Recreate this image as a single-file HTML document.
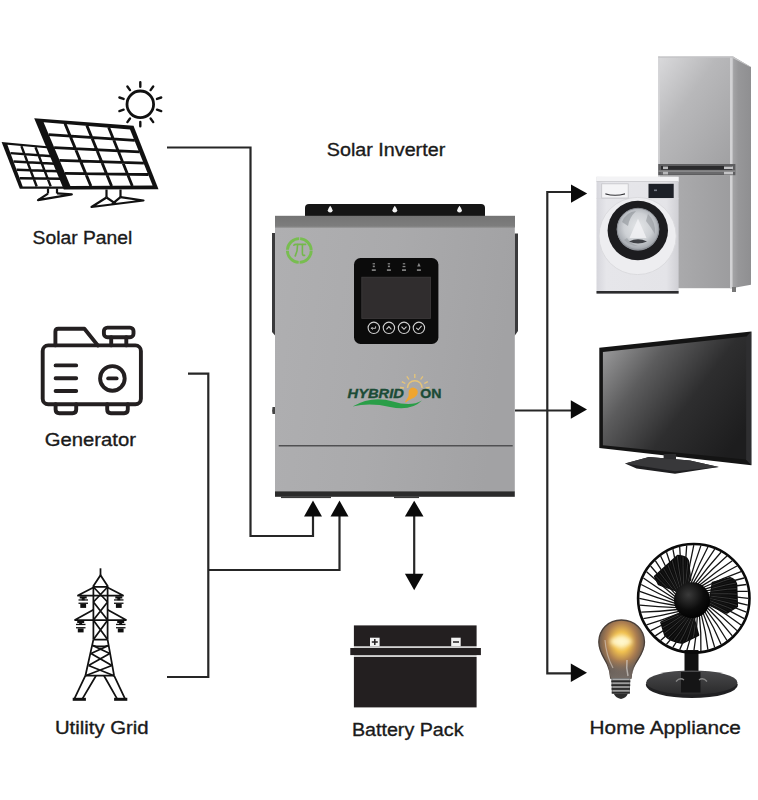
<!DOCTYPE html>
<html><head><meta charset="utf-8">
<style>
html,body{margin:0;padding:0;background:#fff;}
body{width:758px;height:800px;overflow:hidden;position:relative;}
svg{position:absolute;left:0;top:0;display:block;}
text{font-family:"Liberation Sans",sans-serif;fill:#1a1a1a;}
.lbl{stroke:#1a1a1a;stroke-width:0.35px;}
</style></head>
<body>
<svg width="758" height="800" viewBox="0 0 758 800">
<!-- connector lines -->
<g fill="none" stroke="#262626" stroke-width="2.2" stroke-linejoin="miter">
  <path d="M167 147.5 H250.5 V536 H313 V515"/>
  <path d="M188 373.7 H208.3 V677 H167"/>
  <path d="M208.3 570 H339.5 V515"/>
  <path d="M414.2 514 V576"/>
  <path d="M571 192 H547.3 V673.4 H571"/>
  <path d="M515 410.5 H571"/>
</g>
<g fill="#0a0a0a">
  <path d="M313 500.5 L322 516.5 L304 516.5Z"/>
  <path d="M339.5 500.5 L348.5 516.5 L330.5 516.5Z"/>
  <path d="M414.2 500.7 L423.5 516.4 L404.9 516.4Z"/>
  <path d="M414.2 590.2 L423.5 573.7 L404.9 573.7Z"/>
  <path d="M587.2 193.5 L571 184.4 L571 202.8Z"/>
  <path d="M587 409.5 L570.8 400.3 L570.8 418.8Z"/>
  <path d="M587 672.8 L570.8 663.5 L570.8 682Z"/>
</g>
<!-- solar panel icon -->
<g id="solar">
<path fill="#111" d="M1.6 142.0 L50.0 146.5 L68.0 188.8 L19.8 188.8 Z"/>
<path fill="#fff" d="M7.4 144.8 L49.5 148.6 L64.7 186.4 L22.7 186.5 Z"/>
<path fill="none" stroke="#111" stroke-width="2.4" d="M21.4 146.1 L36.7 186.5 M35.5 147.3 L50.7 186.4 M10.5 153.1 L52.5 156.2 M13.5 161.5 L55.6 163.7 M16.6 169.8 L58.6 171.3 M19.6 178.2 L61.7 178.8"/>
<path fill="#111" d="M34.2 118.3 L133.5 125.8 L158.5 189.2 L63.8 189.6 Z"/>
<path fill="#fff" d="M43.6 122.3 L130 129.4 L152.6 185.6 L70.4 185.9 Z"/>
<path fill="none" stroke="#111" stroke-width="2.8" d="M65.0 123.6 L90.9 186.1 M86.8 125.4 L111.6 186.1 M108.6 127.2 L132.3 186.0 M48.7 134.7 L134.8 140.4 M54.1 147.6 L139.4 151.8 M59.4 160.4 L143.9 163.1 M64.8 173.3 L148.5 174.5"/>

<g fill="none" stroke="#111" stroke-width="2.2" stroke-linejoin="round">
  <path d="M48 188.6 V193.6 M57 188.6 V193.4"/>
  <path d="M48 193.6 L38 200.2 L71.8 194.4 L57 193.4"/>
  <path d="M106.5 189.5 V197.5 M120.5 189.5 V197.2"/>
  <path d="M106.5 197.5 L91.5 207 L143.5 200.5 L120.5 197.2"/>
  <path d="M106.5 197.5 L116 203.8 M120.5 197.2 L112 204.2"/>
</g>
<g fill="none" stroke="#111">
  <circle cx="140.3" cy="104.3" r="13.3" stroke-width="2.8"/>
  <path stroke-width="2.4" stroke-linecap="round" d="M140.3 86.7 L140.3 82.3 M130.0 90.1 L127.4 86.5 M123.6 98.9 L119.4 97.5 M123.6 109.7 L119.4 111.1 M130.0 118.5 L127.4 122.1 M140.3 121.9 L140.3 126.3 M150.6 118.5 L153.2 122.1 M157.0 109.7 L161.2 111.1 M157.0 98.9 L161.2 97.5 M150.6 90.1 L153.2 86.5"/>
</g>
</g>
<!-- generator icon -->
<g fill="none" stroke="#231f20" stroke-width="3.9" stroke-linecap="round" stroke-linejoin="round">
  <rect x="42.7" y="345.4" width="98.2" height="58.8" rx="5.5"/>
  <path d="M55.4 345.4 V331.5 Q55.4 328.7 58.2 328.7 H84.4 L97.8 345.4"/>
  <rect x="103.9" y="327.6" width="29.6" height="9.6" rx="3.5"/>
  <path d="M111.2 337.2 V345.4 M126.3 337.2 V345.4"/>
  <path d="M55.6 365.4 H76.2 M55.6 378.2 H76.2 M55.6 391 H76.2"/>
  <circle cx="112.4" cy="378.4" r="12.3"/>
  <path d="M108.2 378.4 H116.6"/>
  <path d="M55.6 404.2 V409.5 Q55.6 413.2 59.3 413.2 H72.5 Q76.2 413.2 76.2 409.5 V404.2"/>
  <path d="M107.2 404.2 V409.5 Q107.2 413.2 110.9 413.2 H124.1 Q127.8 413.2 127.8 409.5 V404.2"/>
</g>
<!-- utility tower -->
<g fill="none" stroke="#111" stroke-width="1.75" stroke-linejoin="miter">
  <path d="M100.5 568.3 V575.5"/>
  <path d="M93.4 586 L100.5 575.2 L107.6 586"/>
  <path d="M93.4 586.9 H107.6"/>
  <path d="M93.4 585.5 V639.6 M107.6 585.5 V639.6"/>
  <path d="M77.3 595.7 H123.7 M77.3 595.7 L93.4 587.5 M123.7 595.7 L107.6 587.5"/>
  <path d="M74.4 620.2 H126.6 M74.4 620.2 L93.4 609.8 M126.6 620.2 L107.6 609.8"/>
  <path d="M93.4 587 L107.6 602 M107.6 587 L93.4 602 M93.4 602 L107.6 620 M107.6 602 L93.4 620"/>
  <path d="M93.4 620.2 L107.6 639.6 M107.6 620.2 L93.4 639.6 M93.4 639.6 H107.6"/>
  <path d="M93.4 639.6 L85.4 675.7 M107.6 639.6 L114.1 675.7 M85.4 675.7 H114.1"/>
  <path d="M92.6 645.5 Q100.5 647.5 108.6 645.5"/>
  <path d="M92.6 645.5 L109.8 653.5 M108.6 645.5 L91 653.5 M91 653.5 L111.9 665.5 M109.8 653.5 L88.5 665.5 M88.5 665.5 L114.1 675.7 M111.9 665.5 L85.4 675.7"/>
  <path d="M85.4 675.7 L74.2 699.1 M96 675.7 L82.2 699.1 M114.1 675.7 L125.2 699.1 M104 675.7 L117.3 699.1"/>
</g>
<g fill="#111">
  <rect x="72.7" y="697.8" width="13.2" height="3"/>
  <rect x="114.1" y="697.8" width="13.2" height="3"/>
<rect x="79.7" y="596.3" width="7" height="2.2"/><rect x="78.5" y="599.3" width="9.5" height="1.3"/><rect x="78.5" y="602.6" width="9.5" height="1.3"/><rect x="80.3" y="603.9" width="5.8" height="4"/><rect x="81.7" y="597.3" width="3" height="3"/><rect x="115.3" y="596.3" width="7" height="2.2"/><rect x="114.0" y="599.3" width="9.5" height="1.3"/><rect x="114.0" y="602.6" width="9.5" height="1.3"/><rect x="115.9" y="603.9" width="5.8" height="4"/><rect x="117.3" y="597.3" width="3" height="3"/><rect x="77.2" y="620.8" width="7" height="2.2"/><rect x="76.0" y="623.8" width="9.5" height="1.3"/><rect x="76.0" y="627.1" width="9.5" height="1.3"/><rect x="77.8" y="628.4" width="5.8" height="4"/><rect x="79.2" y="621.8" width="3" height="3"/><rect x="117.2" y="620.8" width="7" height="2.2"/><rect x="116.0" y="623.8" width="9.5" height="1.3"/><rect x="116.0" y="627.1" width="9.5" height="1.3"/><rect x="117.8" y="628.4" width="5.8" height="4"/><rect x="119.2" y="621.8" width="3" height="3"/>
</g>
<!-- battery -->
<rect x="353.9" y="646" width="122.7" height="11.2" fill="#d2d2d2"/>
<g fill="#231f20">
  <rect x="353.9" y="625.4" width="122.7" height="20.8"/>
  <rect x="350.3" y="648" width="130.6" height="7.1"/>
  <rect x="353.9" y="657" width="122.7" height="50.4"/>
</g>
<rect x="370" y="637.7" width="9.6" height="8.6" fill="#f2f2f2"/>
<rect x="451.2" y="637.7" width="9.5" height="8.6" fill="#f2f2f2"/>
<path d="M371.8 642 H377.8 M374.8 639 V645" stroke="#231f20" stroke-width="1.5"/>
<path d="M453 642 H459" stroke="#231f20" stroke-width="1.5"/>
<!-- inverter -->
<defs>
  <linearGradient id="invBody" x1="0" y1="0" x2="1" y2="0.15">
    <stop offset="0" stop-color="#afafb1"/>
    <stop offset="0.5" stop-color="#aaaaac"/>
    <stop offset="1" stop-color="#a2a2a4"/>
  </linearGradient>
  <linearGradient id="invTop" x1="0" y1="0" x2="0" y2="1">
    <stop offset="0" stop-color="#747474"/>
    <stop offset="1" stop-color="#7e7e7e"/>
  </linearGradient>
</defs>
<path d="M305 216 V208 Q305 204 309 204 H481 Q485 204 485 208 V216 Z" fill="#151515"/>
<g fill="#f4f4f4">
  <path d="M330.2 205.8 Q332.6 209 332.6 210.2 A2.4 2.4 0 0 1 327.8 210.2 Q327.8 209 330.2 205.8Z"/>
  <path d="M394.8 205.8 Q397.2 209 397.2 210.2 A2.4 2.4 0 0 1 392.4 210.2 Q392.4 209 394.8 205.8Z"/>
  <path d="M459.5 205.8 Q461.9 209 461.9 210.2 A2.4 2.4 0 0 1 457.1 210.2 Q457.1 209 459.5 205.8Z"/>
</g>
<path d="M272 233 H275.5 V336 L272 332 Z" fill="#3a3a3c"/>
<path d="M514.5 233.5 H518 V331 L514.5 336 Z" fill="#3a3a3c"/>
<rect x="275" y="215.8" width="240" height="11.2" fill="url(#invTop)"/>
<rect x="275" y="227" width="239.8" height="264.5" fill="url(#invBody)"/>
<rect x="275" y="226.5" width="239.8" height="1.2" fill="#8a8a8a"/>
<path d="M272.5 407 Q271.8 410.5 272.5 414 L275 414 V407Z" fill="#444"/>
<rect x="278.7" y="445" width="234" height="1.5" fill="#505052"/>
<rect x="275" y="491.3" width="239.8" height="5.5" fill="#2b2b2b"/>
<rect x="281" y="496.5" width="50" height="1.6" fill="#3a3a3a"/>
<rect x="394" y="496.5" width="25" height="1.6" fill="#3a3a3a"/>
<!-- pi logo -->
<g fill="none" stroke="#78bd50" stroke-width="2.9">
  <circle cx="299.3" cy="250.5" r="11.9" stroke-dasharray="17.7 1" stroke-dashoffset="18.2"/>
</g>
<g fill="none" stroke="#74b84c" stroke-width="1.6" stroke-linecap="round">
  <path d="M293.8 245.2 Q294.5 244.4 296 244.4 H305.6"/>
  <path d="M297.6 244.6 Q297.6 251.5 295.2 256"/>
  <path d="M302.4 244.6 V253.6 Q302.4 255.6 304.6 255.4"/>
</g>
<!-- display -->
<rect x="354" y="258" width="84.4" height="86" rx="6.5" fill="#0b0b0b"/>
<rect x="361.8" y="277.2" width="68.6" height="41.2" fill="#302d2e" stroke="#3f3d3e" stroke-width="0.8"/>
<g fill="#8a8a8a">
  <rect x="372.6" y="263.2" width="2.4" height="1.2"/><rect x="372.8" y="265.6" width="2" height="1.6"/><rect x="371.8" y="269.3" width="4" height="1.6"/>
  <rect x="387.7" y="263.2" width="2.4" height="1.2"/><rect x="387.9" y="265.6" width="2" height="1.6"/><rect x="386.9" y="269.3" width="4" height="1.6"/>
  <rect x="402.8" y="263.2" width="2.4" height="1.2"/><rect x="402.6" y="265.9" width="2.8" height="1.3"/><rect x="402" y="269.3" width="4" height="1.6"/>
  <path d="M418.9 262.8 L420.6 266.4 H417.2Z"/><rect x="416.9" y="269.3" width="4" height="1.6"/>
</g>
<g fill="none" stroke="#d0d0d0" stroke-width="1.1">
  <circle cx="373.8" cy="327.8" r="5.7"/>
  <circle cx="388.9" cy="327.8" r="5.7"/>
  <circle cx="404" cy="327.8" r="5.7"/>
  <circle cx="418.9" cy="327.8" r="5.7"/>
  <path d="M371.3 328.3 H375.6 V326.3 M371.3 328.3 L372.6 327 M371.3 328.3 L372.6 329.6" stroke-width="0.9"/>
  <path d="M386.4 329.3 L388.9 326.6 L391.4 329.3"/>
  <path d="M401.5 326.6 L404 329.3 L406.5 326.6"/>
  <path d="M416.3 327.9 L418.2 329.8 L421.6 325.8"/>
</g>
<!-- hybridon logo -->
<g>
  <path d="M352.5 406.5 Q372 395 393 401.5 Q411 407 422 400.5 Q411 411.5 390 407 Q370 402.5 352.5 406.5Z" fill="#2a9e48"/>
  <g stroke="#eec872" stroke-width="1.3" fill="none" opacity="0.9">
    <path d="M414.8 378 V374 M409 379.5 L406.8 376.3 M420.6 379.5 L422.8 376.3 M405.3 383.5 L401.8 381.6 M424.3 383.5 L427.8 381.6 M404 388 L400 387.5 M425.6 388 L429.6 387.5"/>
    <path d="M407.5 388 A7.3 7.3 0 0 1 422.1 388" stroke-width="1.4"/>
  </g>
  <path d="M408.6 392.5 A4.6 4.6 0 1 1 417.5 393.8 Q416 397.5 411.5 398.8 Q408 400.5 405.5 402.5 L405 401.8 Q407.5 398.5 408.6 396Z" fill="#f0a530"/>
  <text x="347.6" y="397.6" font-size="12.6" font-weight="bold" font-style="italic" style="fill:#1b4b36;stroke:#1b4b36;stroke-width:0.35" textLength="56.2" lengthAdjust="spacingAndGlyphs">HYBRID</text>
  <text x="420.2" y="397.8" font-size="12.8" font-weight="bold" style="fill:#1b4b36;stroke:#1b4b36;stroke-width:0.35" textLength="21.2" lengthAdjust="spacingAndGlyphs">ON</text>
</g>
<!-- appliances -->
<defs>
  <linearGradient id="frDoor" x1="0" y1="0" x2="1" y2="1">
    <stop offset="0" stop-color="#dadadc"/>
    <stop offset="0.4" stop-color="#b8b8ba"/>
    <stop offset="1" stop-color="#a0a0a2"/>
  </linearGradient>
  <linearGradient id="frDoor2" x1="0" y1="0" x2="1" y2="0">
    <stop offset="0" stop-color="#afafb1"/>
    <stop offset="1" stop-color="#9c9c9e"/>
  </linearGradient>
  <linearGradient id="frSide" x1="0" y1="0" x2="1" y2="0">
    <stop offset="0" stop-color="#a4a4a6"/>
    <stop offset="0.3" stop-color="#979799"/>
    <stop offset="1" stop-color="#8f8f91"/>
  </linearGradient>
  <linearGradient id="wmBody" x1="0" y1="0" x2="1" y2="0">
    <stop offset="0" stop-color="#d6d6dc"/>
    <stop offset="0.12" stop-color="#e6e6ea"/>
    <stop offset="0.85" stop-color="#e4e4e8"/>
    <stop offset="1" stop-color="#cfcfd4"/>
  </linearGradient>
  <radialGradient id="wmGlass" cx="0.5" cy="0.45" r="0.55">
    <stop offset="0" stop-color="#e4e6e8"/>
    <stop offset="0.6" stop-color="#cdd0d4"/>
    <stop offset="0.9" stop-color="#a8acb2"/>
    <stop offset="1" stop-color="#7c8086"/>
  </radialGradient>
  <linearGradient id="tvScreen" x1="0" y1="0.1" x2="1" y2="0.75">
    <stop offset="0" stop-color="#9a9a9b"/>
    <stop offset="0.3" stop-color="#5c5c5d"/>
    <stop offset="0.62" stop-color="#2e2e2f"/>
    <stop offset="1" stop-color="#1d1d1e"/>
  </linearGradient>
  <radialGradient id="hub" cx="0.4" cy="0.35" r="0.7">
    <stop offset="0" stop-color="#3a3a3a"/>
    <stop offset="0.6" stop-color="#0c0c0c"/>
    <stop offset="1" stop-color="#000"/>
  </radialGradient>
  <radialGradient id="bulbGlow" cx="0.5" cy="0.38" r="0.62">
    <stop offset="0" stop-color="#fff3b8"/>
    <stop offset="0.28" stop-color="#f0c050"/>
    <stop offset="0.55" stop-color="#ab7d50"/>
    <stop offset="0.82" stop-color="#655850"/>
    <stop offset="1" stop-color="#48413d"/>
  </radialGradient>
  <filter id="blur2" x="-50%" y="-50%" width="200%" height="200%"><feGaussianBlur stdDeviation="2"/></filter>
  <linearGradient id="fanBase" x1="0" y1="0" x2="0" y2="1">
    <stop offset="0" stop-color="#4a4a4c"/>
    <stop offset="1" stop-color="#2a2a2b"/>
  </linearGradient>
</defs>
<!-- fridge -->
<path d="M733 56.4 L751 67 V284.7 L733 288Z" fill="url(#frSide)"/>
<rect x="658.2" y="56.4" width="75" height="107.8" fill="url(#frDoor)"/>
<rect x="658.2" y="175.2" width="75" height="113" fill="url(#frDoor2)"/>
<rect x="658.2" y="56.4" width="1.6" height="232" fill="#d4d4d6"/>
<rect x="730" y="56.4" width="2.6" height="232" fill="#d2d2d4"/>
<path d="M658.2 56.4 H733 L751 67 L749 66.5 L732 57.8 H658.2Z" fill="#c4c4c6"/>
<rect x="658.2" y="164" width="77.2" height="11.2" fill="#5e5e60"/>
<rect x="661" y="166" width="71" height="3.8" fill="#2a2a2c"/>
<rect x="658.2" y="170.3" width="77.2" height="1.6" fill="#8c8c8e"/>
<rect x="661" y="172" width="71" height="2" fill="#6a6a6c"/>
<rect x="663" y="166.5" width="5" height="2.6" fill="#b8b8ba"/><rect x="663" y="171.8" width="5" height="2.6" fill="#b8b8ba"/>
<rect x="724" y="166.5" width="9" height="2.6" fill="#c4c4c6"/><rect x="724" y="171.8" width="9" height="2.6" fill="#c4c4c6"/>
<rect x="732" y="287" width="4" height="5" fill="#777"/>
<!-- washing machine -->
<rect x="596.5" y="176.8" width="82.1" height="116.6" fill="url(#wmBody)"/>
<rect x="596.5" y="176.8" width="82.1" height="4.9" fill="#f3f3f5"/>
<rect x="596.5" y="181.2" width="82.1" height="0.8" fill="#c8c8cc"/>
<rect x="596.5" y="198.3" width="82.1" height="0.7" fill="#d6d6da"/>
<circle cx="637.6" cy="236" r="38.6" fill="#ededf0" stroke="#d9d9dd" stroke-width="0.9"/>
<rect x="601.7" y="183.8" width="26.5" height="14.2" fill="#f4f4f6" stroke="#c4c4c8" stroke-width="0.8"/>
<path d="M605.4 193.2 Q615 196.2 625 193.2 V194.6 Q615 197 605.4 194.6Z" fill="#303034"/>
<rect x="648.5" y="183.8" width="25.2" height="14.2" fill="#1d2027"/>
<rect x="654" y="189.5" width="3" height="1.6" fill="#777c88"/>

<ellipse cx="637.8" cy="230.5" rx="30.2" ry="29.7" fill="#1c1c1f"/>
<circle cx="638" cy="229.4" r="21.2" fill="url(#wmGlass)"/>
<circle cx="638" cy="229.1" r="20.8" fill="none" stroke="#8c9096" stroke-width="0.9"/><path d="M622 222 Q626 212 636 211 Q629 218 628 226Z" fill="#8e9298" opacity="0.6"/><path d="M648 214 Q656 222 655 234 Q650 226 646 221Z" fill="#8e9298" opacity="0.55"/><path d="M624 240 Q630 246 638 246 Q630 243 627 238Z" fill="#9a9ea4" opacity="0.6"/>
<path d="M629.5 238 L638 218.5 L646.5 238Z" fill="#f2f3f5" opacity="0.8"/>
<path d="M629 241.5 Q638 237 647 241.5 Q638 245.5 629 241.5Z" fill="#3e4045"/>
<rect x="596.5" y="291" width="82.1" height="2.6" fill="#2c2c2e"/>
<!-- TV -->
<path d="M599.3 347.7 L751.3 331.5 V465.3 L599.3 448.1Z" fill="#141414"/>
<path d="M746 337 L751.3 331.5 V465.3 L746 459.5Z" fill="#2e2e30"/>
<path d="M602.9 352.1 L746.2 336.6 V459.6 L602.9 445.2Z" fill="url(#tvScreen)"/>
<path d="M663.6 454 H676 V462 H663.6Z" fill="#2c2c2e"/><path d="M664 459 H675.5 V461 H664Z" fill="#6a6a6c"/>
<path d="M625 463.4 L649 457.1 L690 460.5 L718.8 467.1 L675 473.8 L636.5 468.6Z" fill="#1e1e20"/>
<path d="M625 463.4 L649 457.1 L690 460.5 L718.8 467.1 L675 471.2 Z" fill="#38383a"/>
<!-- fan -->
<path d="M684.5 650 H698.5 V684 H684.5Z" fill="#111"/>
<ellipse cx="691.8" cy="684.8" rx="46" ry="13.3" fill="#202022"/>
<ellipse cx="691.8" cy="682.4" rx="45.6" ry="12" fill="url(#fanBase)"/>
<path d="M681 672 H700.5 V692.5 H681Z" fill="#151516"/>
<path d="M676 681.5 Q680 677 684 680 M699 680 Q703 677 707 681.5" stroke="#888" stroke-width="1.3" fill="none"/>
<g fill="#0b0b0b" stroke="#0b0b0b" stroke-width="2" stroke-linejoin="round">
  <path d="M654.8 576.4 L677.7 555.8 Q686 556 688 560.6 L690.4 579.6 L680.9 592.2 L658.7 584.3Z"/>
  <path d="M712.6 582.7 L730 578 Q735 579.5 736.3 584.3 L737.1 606.5 L726.8 612.8 L709.4 604.9Z"/>
  <path d="M661.1 622.3 L677.7 614.4 L693.6 617.6 L698.3 635 L682.5 642.9 Q670 641 665 635Z"/>
</g>
<clipPath id="bladeClip">
  <path d="M654.8 576.4 L677.7 555.8 Q686 556 688 560.6 L690.4 579.6 L680.9 592.2 L658.7 584.3Z"/>
  <path d="M712.6 582.7 L730 578 Q735 579.5 736.3 584.3 L737.1 606.5 L726.8 612.8 L709.4 604.9Z"/>
  <path d="M661.1 622.3 L677.7 614.4 L693.6 617.6 L698.3 635 L682.5 642.9 Q670 641 665 635Z"/>
</clipPath>
<path clip-path="url(#bladeClip)" fill="none" stroke="#4a4a4a" stroke-width="0.7" d="M708.5 595.9 Q729.2 597.8 748.2 601.8 M708.9 598.1 Q729.0 602.4 747.3 608.6 M709.0 600.3 Q728.3 606.9 745.4 615.4 M708.8 602.5 Q726.9 611.4 742.7 621.8 M708.4 604.7 Q725.0 615.6 739.1 627.8 M707.7 606.8 Q722.5 619.5 734.8 633.3 M706.7 608.8 Q719.5 623.1 729.8 638.2 M705.4 610.6 Q716.1 626.2 724.1 642.5 M703.9 612.3 Q712.3 628.9 717.9 645.9 M702.3 613.8 Q708.1 631.1 711.3 648.6 M700.4 615.0 Q703.7 632.7 704.5 650.4 M698.4 615.9 Q699.1 633.8 697.4 651.3 M696.3 616.7 Q694.5 634.3 690.3 651.3 M694.1 617.1 Q689.8 634.1 683.2 650.4 M691.9 617.2 Q685.1 633.4 676.3 648.6 M689.7 617.0 Q680.6 632.0 669.7 646.0 M687.5 616.6 Q676.3 630.2 663.5 642.5 M685.4 615.9 Q672.3 627.7 657.9 638.3 M683.4 614.9 Q668.7 624.8 652.8 633.4 M681.6 613.6 Q665.4 621.4 648.5 627.8 M679.9 612.1 Q662.7 617.7 644.9 621.8 M678.4 610.5 Q660.4 613.6 642.2 615.4 M677.2 608.6 Q658.8 609.3 640.4 608.7 M676.3 606.6 Q657.7 604.8 639.4 601.8 M675.5 604.5 Q657.2 600.2 639.4 594.8 M675.1 602.3 Q657.4 595.6 640.3 588.0 M675.0 600.1 Q658.1 591.1 642.2 581.2 M675.2 597.9 Q659.5 586.6 644.9 574.8 M675.6 595.7 Q661.4 582.4 648.5 568.8 M676.3 593.6 Q663.9 578.5 652.8 563.3 M677.3 591.6 Q666.9 574.9 657.8 558.4 M678.6 589.8 Q670.3 571.8 663.5 554.1 M680.1 588.1 Q674.1 569.1 669.7 550.7 M681.7 586.6 Q678.3 566.9 676.3 548.0 M683.6 585.4 Q682.7 565.3 683.1 546.2 M685.6 584.5 Q687.3 564.2 690.2 545.3 M687.7 583.7 Q691.9 563.7 697.3 545.3 M689.9 583.3 Q696.6 563.9 704.4 546.2 M692.1 583.2 Q701.3 564.6 711.3 548.0 M694.3 583.4 Q705.8 566.0 717.9 550.6 M696.5 583.8 Q710.1 567.8 724.1 554.1 M698.6 584.5 Q714.1 570.3 729.7 558.3 M700.6 585.5 Q717.7 573.2 734.8 563.2 M702.4 586.8 Q721.0 576.6 739.1 568.8 M704.1 588.3 Q723.7 580.3 742.7 574.8 M705.6 589.9 Q726.0 584.4 745.4 581.2 M706.8 591.8 Q727.6 588.7 747.2 587.9 M707.7 593.8 Q728.7 593.2 748.2 594.8"/>
<path fill="none" stroke="#141414" stroke-width="1.3" d="M708.1 594.9 Q729.0 595.5 748.3 598.3 M708.7 597.0 Q729.2 600.1 747.8 605.2 M709.0 599.2 Q728.7 604.7 746.4 612.1 M709.0 601.4 Q727.7 609.2 744.2 618.6 M708.6 603.6 Q726.0 613.5 741.0 624.9 M708.1 605.8 Q723.8 617.6 737.0 630.6 M707.2 607.8 Q721.1 621.3 732.3 635.9 M706.1 609.7 Q717.9 624.7 727.0 640.5 M704.7 611.5 Q714.2 627.6 721.0 644.3 M703.1 613.1 Q710.2 630.1 714.7 647.4 M701.3 614.4 Q705.9 632.0 707.9 649.6 M699.4 615.5 Q701.4 633.3 700.9 651.0 M697.3 616.3 Q696.8 634.1 693.8 651.4 M695.2 616.9 Q692.1 634.3 686.7 651.0 M693.0 617.2 Q687.4 633.8 679.7 649.6 M690.8 617.2 Q682.8 632.8 672.9 647.4 M688.6 616.8 Q678.4 631.2 666.5 644.3 M686.4 616.3 Q674.2 629.0 660.6 640.5 M684.4 615.4 Q670.4 626.3 655.3 635.9 M682.5 614.3 Q667.0 623.2 650.6 630.6 M680.7 612.9 Q664.0 619.6 646.6 624.9 M679.1 611.3 Q661.5 615.7 643.4 618.6 M677.8 609.5 Q659.5 611.5 641.2 612.1 M676.7 607.6 Q658.2 607.1 639.8 605.2 M675.9 605.5 Q657.4 602.5 639.3 598.3 M675.3 603.4 Q657.2 597.9 639.8 591.4 M675.0 601.2 Q657.7 593.3 641.2 584.5 M675.0 599.0 Q658.7 588.8 643.4 578.0 M675.4 596.8 Q660.4 584.5 646.6 571.7 M675.9 594.6 Q662.6 580.4 650.6 566.0 M676.8 592.6 Q665.3 576.7 655.3 560.7 M677.9 590.7 Q668.5 573.3 660.6 556.1 M679.3 588.9 Q672.2 570.4 666.5 552.3 M680.9 587.3 Q676.2 567.9 672.9 549.2 M682.7 586.0 Q680.5 566.0 679.7 547.0 M684.6 584.9 Q685.0 564.7 686.7 545.6 M686.7 584.1 Q689.6 563.9 693.8 545.2 M688.8 583.5 Q694.3 563.7 700.9 545.6 M691.0 583.2 Q699.0 564.2 707.9 547.0 M693.2 583.2 Q703.6 565.2 714.7 549.2 M695.4 583.6 Q708.0 566.8 721.0 552.3 M697.6 584.1 Q712.2 569.0 727.0 556.1 M699.6 585.0 Q716.0 571.7 732.3 560.7 M701.5 586.1 Q719.4 574.8 737.0 566.0 M703.3 587.5 Q722.4 578.4 741.0 571.7 M704.9 589.1 Q724.9 582.3 744.2 578.0 M706.2 590.9 Q726.9 586.5 746.4 584.5 M707.3 592.8 Q728.2 590.9 747.8 591.4"/>
<ellipse cx="693.8" cy="598.3" rx="55.7" ry="54.3" fill="none" stroke="#0a0a0a" stroke-width="2.6"/>
<circle cx="692" cy="600.2" r="18" fill="url(#hub)"/>
<!-- bulb -->
<path d="M621.4 620 C608 620 598.8 630 598.8 642 C598.8 652 604.5 658 607.4 664.5 C609.5 669 610.5 673 610.7 678 H631 C631.2 673 632.3 669 635 664.5 C638.5 658 644.5 652 644.5 642 C644.5 630 635 620 621.4 620Z" fill="url(#bulbGlow)" stroke="#4a3f38" stroke-width="1.3"/>
<ellipse cx="621" cy="641.5" rx="11" ry="5" fill="#fff8d0" opacity="0.9" filter="url(#blur2)"/>
<linearGradient id="neckG" x1="0" y1="0" x2="0" y2="1"><stop offset="0" stop-color="#7d736c" stop-opacity="0"/><stop offset="1" stop-color="#7d736c" stop-opacity="0.85"/></linearGradient><path d="M606 658 Q621 662 637 658 L631 678 H610.7Z" fill="url(#neckG)"/><path d="M605 640 Q606 655 613 668" stroke="#d8cfc4" stroke-width="1.2" fill="none" opacity="0.6"/><path d="M627 660 Q626 668 628 676" stroke="#e0dcd8" stroke-width="1.5" fill="none" opacity="0.6"/>
<path d="M611.3 678 H630.3 L629.8 693.7 H611.8Z" fill="#707070"/>
<g fill="#2a2a2a">
  <rect x="611.3" y="680.5" width="19" height="1.7"/><rect x="611.4" y="684.3" width="18.8" height="1.7"/><rect x="611.6" y="688.1" width="18.4" height="1.7"/><rect x="611.8" y="691.8" width="18" height="1.7"/>
</g>
<g fill="#a8a8a8">
  <rect x="612.5" y="678.8" width="17" height="1.2"/><rect x="612.5" y="682.6" width="17" height="1.2"/><rect x="612.6" y="686.4" width="16.8" height="1.2"/><rect x="612.8" y="690.2" width="16.5" height="1.2"/>
</g>
<path d="M613.5 693.5 H628 Q626 698 621 699 Q616 698 613.5 693.5Z" fill="#2c2c2c"/>
<!-- labels -->
<text class="lbl" x="32.6" y="244.2" font-size="18.7" textLength="99.6" lengthAdjust="spacingAndGlyphs">Solar Panel</text>
<text class="lbl" x="44.8" y="445.5" font-size="18.7" textLength="91.2" lengthAdjust="spacingAndGlyphs">Generator</text>
<text class="lbl" x="54.9" y="733.5" font-size="18.7" textLength="93.8" lengthAdjust="spacingAndGlyphs">Utility Grid</text>
<text class="lbl" x="326.8" y="156.3" font-size="18.7" textLength="118.4" lengthAdjust="spacingAndGlyphs">Solar Inverter</text>
<text class="lbl" x="351.9" y="735.7" font-size="18.7" textLength="111.6" lengthAdjust="spacingAndGlyphs">Battery Pack</text>
<text class="lbl" x="589.6" y="733.9" font-size="18.7" textLength="151.3" lengthAdjust="spacingAndGlyphs">Home Appliance</text>
</svg>
</body></html>
